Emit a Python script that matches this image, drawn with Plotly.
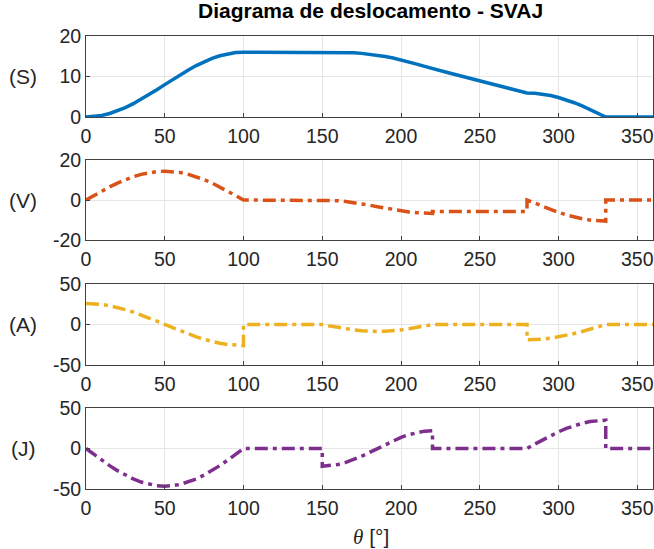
import plotly.graph_objects as go
from plotly.subplots import make_subplots

# Cam angle grid (degrees)
theta = list(range(0, 365, 5))
x_ticks = [0, 50, 100, 150, 200, 250, 300, 350]

# Displacement S
s_vals = [0.0, 0.10, 0.39, 0.87, 1.53, 2.34, 3.30, 4.37, 5.53, 6.75, 8.00,
          9.25, 10.47, 11.63, 12.70, 13.66, 14.47, 15.13, 15.61, 15.90, 16.00,
          16.0, 16.0, 16.0, 16.0, 16.0, 16.0, 16.0, 16.0, 16.0, 16.0,
          16.0, 15.98, 15.94, 15.85, 15.71, 15.52, 15.26, 14.93, 14.55, 14.10,
          13.60, 13.06, 12.50, 11.91,
          11.41, 10.92, 10.42, 9.92, 9.42, 8.93, 8.43, 7.93, 7.43, 6.94, 6.44, 5.94,
          5.87, 5.65, 5.30, 4.82, 4.22, 3.52, 2.74, 1.89, 1.00, 0.0,
          0.0, 0.0, 0.0, 0.0, 0.0, 0.0]

# Velocity V (left-hand values; jumps listed separately)
v_vals = [0.0, 2.25, 4.45, 6.54, 8.46, 10.18, 11.65, 12.83, 13.70, 14.22, 14.40,
          14.22, 13.70, 12.83, 11.65, 10.18, 8.46, 6.54, 4.45, 2.25, 0.0,
          0.0, 0.0, 0.0, 0.0, 0.0, 0.0, 0.0, 0.0, 0.0, 0.0,
          -0.08, -0.33, -0.73, -1.26, -1.89, -2.60, -3.34, -4.09, -4.80, -5.43,
          -5.96, -6.36, -6.60, -6.69,
          -5.7, -5.7, -5.7, -5.7, -5.7, -5.7, -5.7, -5.7, -5.7, -5.7, -5.7, -5.7,
          -1.65, -3.26, -4.79, -6.20, -7.46, -8.54, -9.40, -10.03, -10.42, -10.55,
          0.0, 0.0, 0.0, 0.0, 0.0, 0.0]
v_jumps = {220: -5.7, 280: 0.0, 330: 0.0}

# Acceleration A
a_vals = [26.0, 25.68, 24.73, 23.17, 21.03, 18.38, 15.28, 11.80, 8.03, 4.07, 0.0,
          -4.07, -8.03, -11.80, -15.28, -18.38, -21.03, -23.17, -24.73, -25.68, -26.0,
          0.0, 0.0, 0.0, 0.0, 0.0, 0.0, 0.0, 0.0, 0.0, 0.0,
          -1.91, -3.73, -5.36, -6.72, -7.75, -8.38, -8.60, -8.38, -7.75, -6.72,
          -5.36, -3.73, -1.91, 0.0,
          0.0, 0.0, 0.0, 0.0, 0.0, 0.0, 0.0, 0.0, 0.0, 0.0, 0.0, 0.0,
          -18.77, -18.07, -16.93, -15.37, -13.43, -11.17, -8.63, -5.87, -2.97, 0.0,
          0.0, 0.0, 0.0, 0.0, 0.0, 0.0]
a_jumps = {100: 0.0, 280: -19.0}

# Jerk J
j_vals = [0.0, -7.27, -14.37, -21.11, -27.33, -32.88, -37.62, -41.43, -44.22, -45.93, -46.5,
          -45.93, -44.22, -41.43, -37.62, -32.88, -27.33, -21.11, -14.37, -7.27, 0.0,
          0.0, 0.0, 0.0, 0.0, 0.0, 0.0, 0.0, 0.0, 0.0, 0.0,
          -21.45, -19.82, -17.20, -13.72, -9.55, -4.90, 0.0, 4.90, 9.55, 13.72,
          17.20, 19.82, 21.45, 22.0,
          0.0, 0.0, 0.0, 0.0, 0.0, 0.0, 0.0, 0.0, 0.0, 0.0, 0.0, 0.0,
          5.48, 10.82, 15.89, 20.57, 24.75, 28.31, 31.19, 33.29, 34.57, 35.0,
          0.0, 0.0, 0.0, 0.0, 0.0, 0.0]
j_jumps = {150: -22.0, 220: 0.0, 330: 0.0}


def with_jumps(xs, ys, jumps):
    """Insert a vertical step wherever the curve is discontinuous."""
    ox, oy = [], []
    for t, v in zip(xs, ys):
        ox.append(t)
        oy.append(v)
        if t in jumps:
            ox.append(t)
            oy.append(jumps[t])
    return ox, oy


W, H = 654, 549
DASHDOT = "13px,5px,4px,5px"
LW = 3.5

fig = make_subplots(rows=4, cols=1)

fig.add_trace(go.Scatter(x=theta, y=s_vals, mode="lines",
                         line=dict(color="#0072BD", width=LW)), row=1, col=1)
vx, vy = with_jumps(theta, v_vals, v_jumps)
fig.add_trace(go.Scatter(x=vx, y=vy, mode="lines",
                         line=dict(color="#D95319", width=LW, dash=DASHDOT)), row=2, col=1)
ax, ay = with_jumps(theta, a_vals, a_jumps)
fig.add_trace(go.Scatter(x=ax, y=ay, mode="lines",
                         line=dict(color="#EDB120", width=LW, dash=DASHDOT)), row=3, col=1)
jx, jy = with_jumps(theta, j_vals, j_jumps)
fig.add_trace(go.Scatter(x=jx, y=jy, mode="lines",
                         line=dict(color="#7E2F8E", width=LW, dash=DASHDOT)), row=4, col=1)

FONT = "Liberation Sans, Arial, sans-serif"
AX = "#404040"
GRID = "#e6e6e6"
TICK_SIZE = 19.5

# panel placement in pixels (top, bottom)
panels = [(36, 117), (160, 240), (284, 365), (408, 489)]
y_ranges = [[0, 20], [-20, 20], [-50, 50], [-50, 50]]
y_ticks = [[0, 10, 20], [-20, 0, 20], [-50, 0, 50], [-50, 0, 50]]
labels = ["(S)", "(V)", "(A)", "(J)"]

x_dom = [86 / W, 653 / W]
for i, ((top, bot), yr, yt) in enumerate(zip(panels, y_ranges, y_ticks), start=1):
    sfx = "" if i == 1 else str(i)
    fig.layout["xaxis" + sfx].update(
        domain=x_dom, range=[0, 360], tickvals=x_ticks,
        ticktext=[str(v) for v in x_ticks],
        showgrid=True, gridcolor=GRID, gridwidth=1,
        showline=True, linecolor=AX, linewidth=1, mirror=True,
        ticks="inside", ticklen=4, tickcolor=AX, ticklabelstandoff=2,
        tickfont=dict(family=FONT, size=TICK_SIZE, color="#262626"),
        zeroline=False, automargin=False)
    fig.layout["yaxis" + sfx].update(
        domain=[1 - bot / H, 1 - top / H], range=yr, tickvals=yt,
        ticktext=[str(v) for v in yt],
        showgrid=True, gridcolor=GRID, gridwidth=1,
        showline=True, linecolor=AX, linewidth=1, mirror=True,
        ticks="inside", ticklen=4, tickcolor=AX,
        tickfont=dict(family=FONT, size=TICK_SIZE, color="#262626"),
        zeroline=False, automargin=False)
    fig.add_annotation(text=labels[i - 1], xref="paper", yref="paper",
                       x=23 / W, y=1 - (top + bot) / 2 / H,
                       xanchor="center", yanchor="middle", showarrow=False,
                       font=dict(family=FONT, size=21, color="#262626"))

fig.add_annotation(text="<b>Diagrama de deslocamento - SVAJ</b>",
                   xref="paper", yref="paper", x=370 / W, y=1 - 11 / H,
                   xanchor="center", yanchor="middle", showarrow=False,
                   font=dict(family=FONT, size=21, color="#000000"))
fig.add_annotation(text="<span style='font-family:Liberation Serif'><i>θ</i></span> [°]",
                   xref="paper", yref="paper", x=371 / W, y=1 - 537 / H,
                   xanchor="center", yanchor="middle", showarrow=False,
                   font=dict(family=FONT, size=21, color="#262626"))

fig.update_layout(width=W, height=H, showlegend=False,
                  margin=dict(l=0, r=0, t=0, b=0),
                  paper_bgcolor="white", plot_bgcolor="white")

fig.write_html("out.html")
